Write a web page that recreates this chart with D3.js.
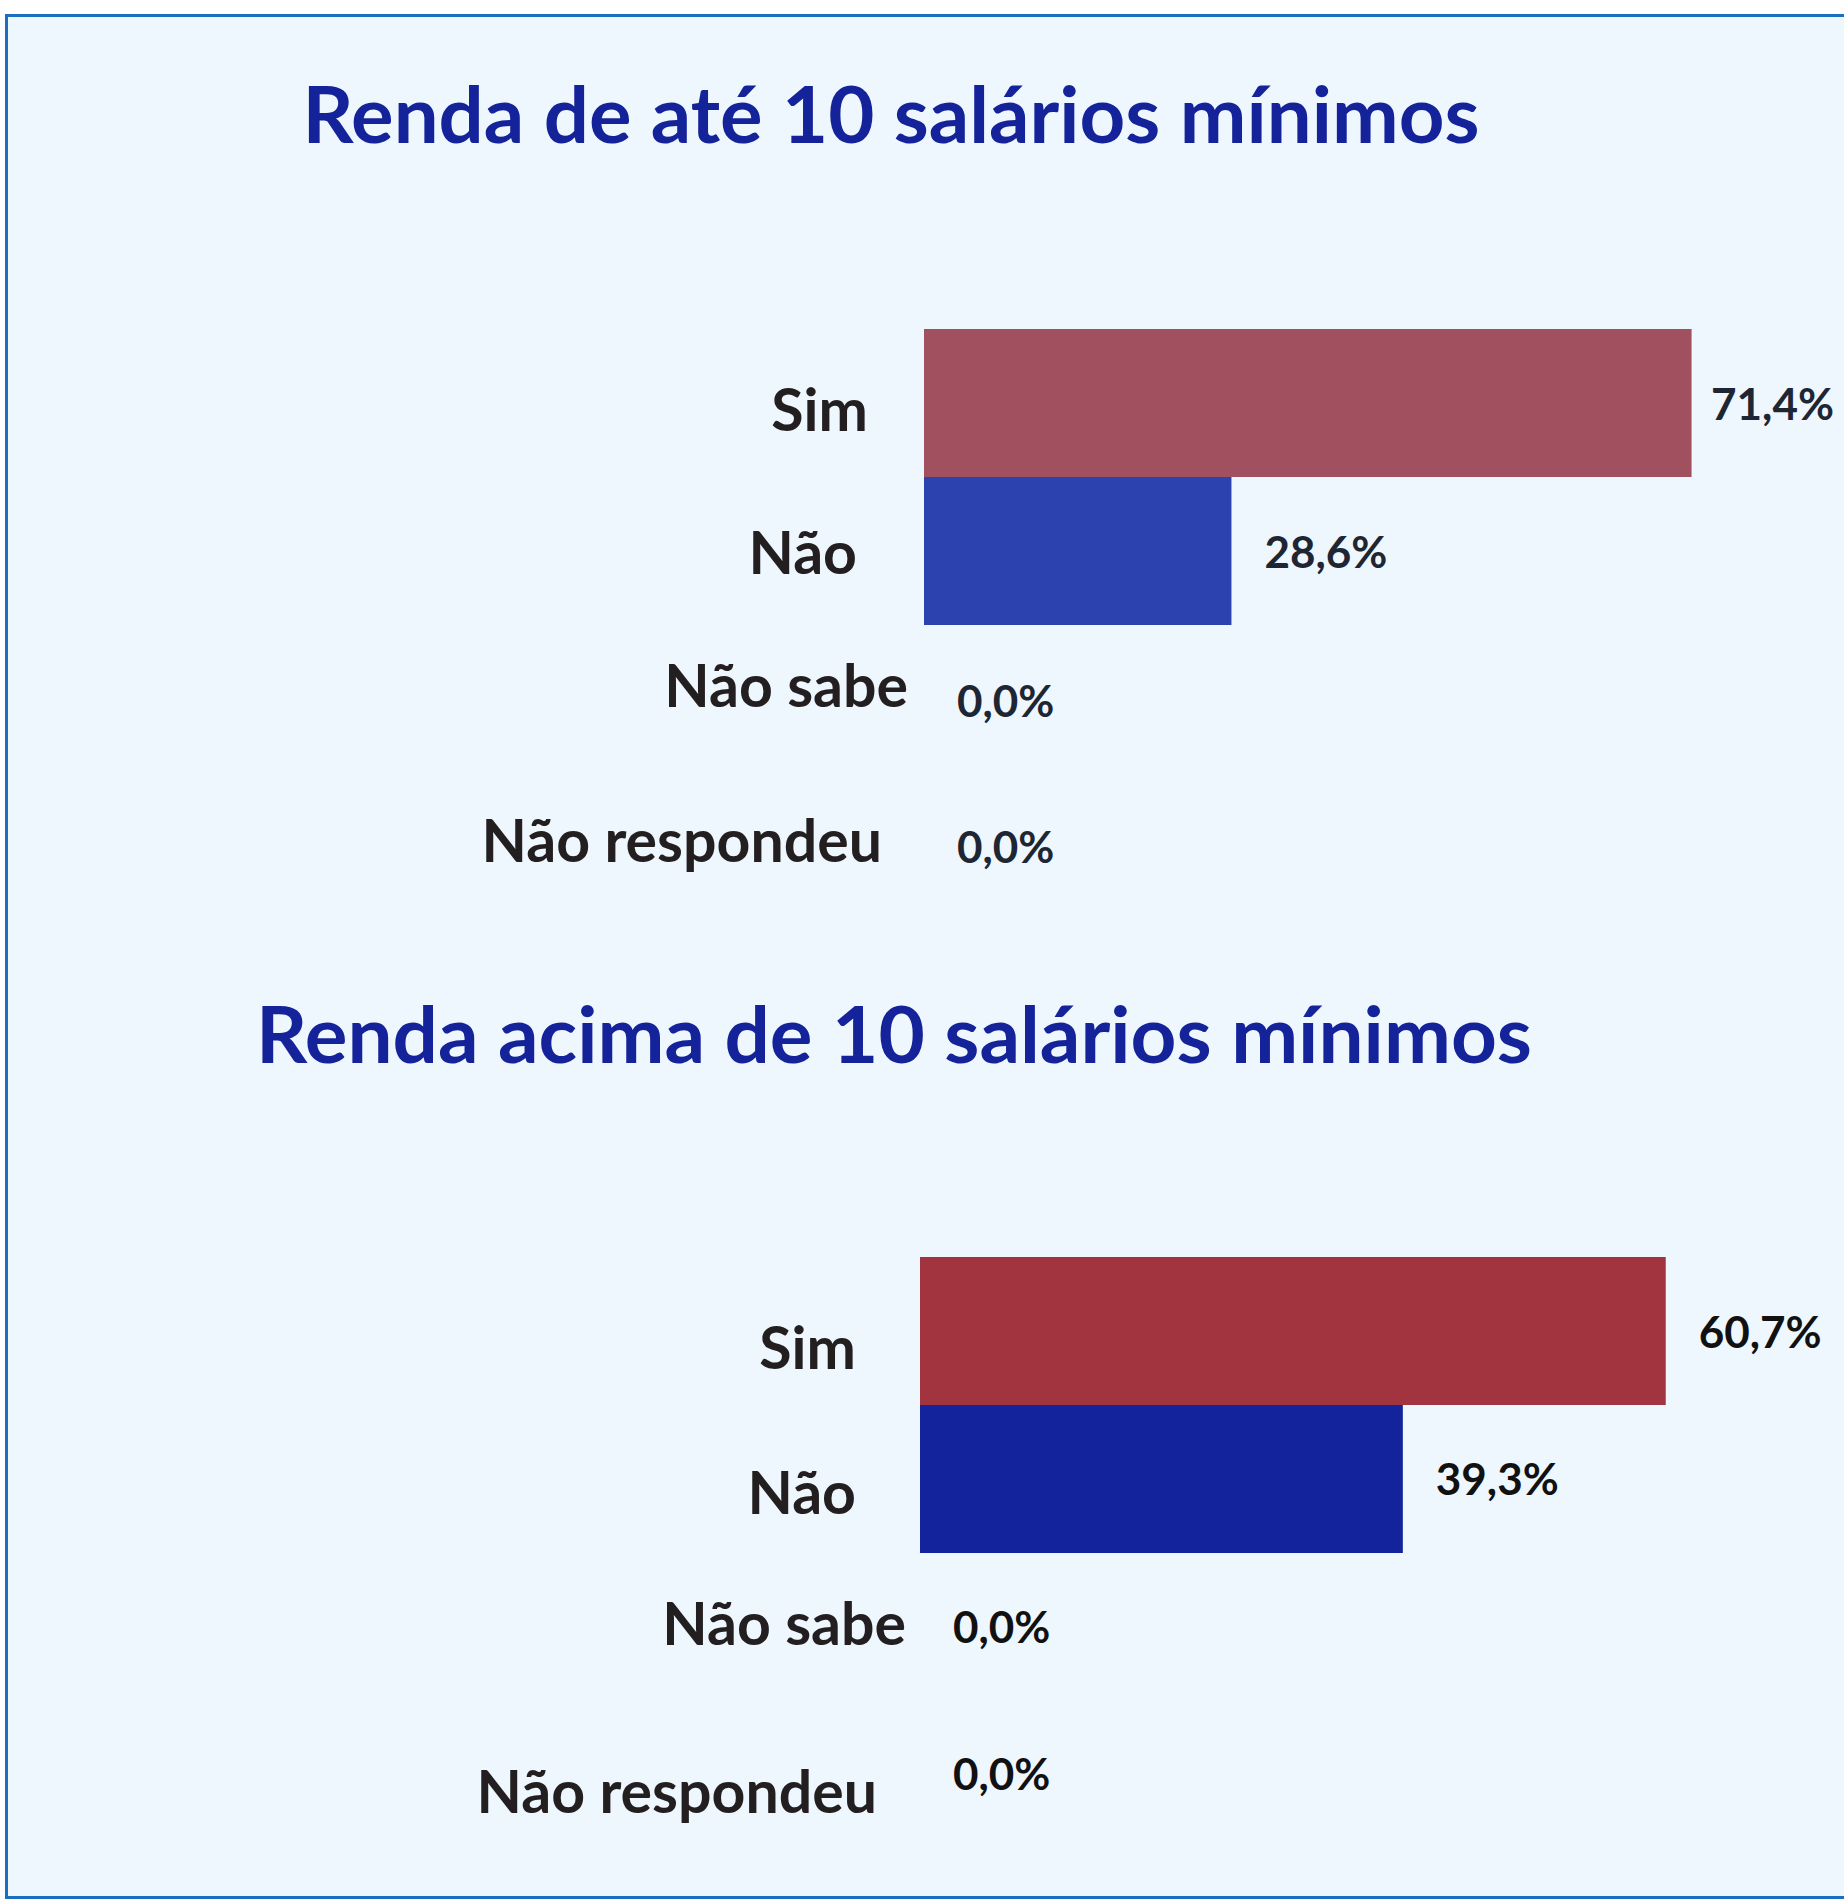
<!DOCTYPE html>
<html>
<head>
<meta charset="utf-8">
<script src="https://cdn.jsdelivr.net/npm/d3@7"></script>
<style>
  body { margin: 0; background: #ffffff; }
  svg { display: block; }
  .title { font-family: Lato, "Open Sans", sans-serif; font-weight: 700; fill: #15239b; }
  .cat { font-family: Lato, "Open Sans", sans-serif; font-weight: 700; fill: #231f20; }
  .val { font-family: Lato, "Open Sans", sans-serif; font-weight: 700; }
</style>
</head>
<body>
<svg id="chart"></svg>
<script>
// data
var categories = ["Sim", "Não", "Não sabe", "Não respondeu"];
var titles = ["Renda de até 10 salários mínimos", "Renda acima de 10 salários mínimos"];
var valuesAte10 = [71.4, 28.6, 0.0, 0.0];
var valuesAcima10 = [60.7, 39.3, 0.0, 0.0];
var axisMax = [80, 70];

var width = 1844, height = 1901;

// layout for the two panels
var panels = [
  { title: titles[0], values: valuesAte10, max: axisMax[0],
    x0: 924, top: 329, titleX: 891, titleY: 143, titleW: 1177,
    colors: ["#a0505e", "#2c42af", "#a0505e", "#a0505e"], valColor: "#1f2633",
    labelDx: [-56, -67, -16, -42], labelDy: [28, 23, 8, 15], valDy: [17, 17, 18, 16] },
  { title: titles[1], values: valuesAcima10, max: axisMax[1],
    x0: 920, top: 1257, titleX: 894, titleY: 1063, titleW: 1276,
    colors: ["#a1343f", "#12239b", "#a1343f", "#a1343f"], valColor: "#111111",
    labelDx: [-64, -64, -14, -43], labelDy: [38, 35, 18, 38], valDy: [17, 16, 16, 15] }
];

var fmt = d3.format(".1f");
function pct(v) { return fmt(v).replace(".", ",") + "%"; }

var svg = d3.select("#chart")
  .attr("width", width)
  .attr("height", height);

svg.append("rect")
  .attr("x", 6.5).attr("y", 15.5)
  .attr("width", width + 20).attr("height", 1882)
  .attr("fill", "#eef6fe")
  .attr("stroke", "#1b6ec2")
  .attr("stroke-width", 3);

panels.forEach(function(p) {
  var x = d3.scaleLinear().domain([0, p.max]).range([p.x0, p.x0 + 860]);
  var y = d3.scaleBand().domain(categories).range([p.top, p.top + 148 * categories.length]).padding(0);

  var g = svg.append("g");

  g.append("text")
    .attr("class", "title")
    .attr("x", p.titleX)
    .attr("y", p.titleY)
    .attr("text-anchor", "middle")
    .attr("textLength", p.titleW)
    .attr("lengthAdjust", "spacingAndGlyphs")
    .style("font-size", "78px")
    .text(p.title);

  g.selectAll(".bar")
    .data(p.values)
    .enter()
    .append("rect")
    .attr("class", "bar")
    .attr("x", x(0))
    .attr("y", function(d, i) { return y(categories[i]); })
    .attr("width", function(d) { return x(d) - x(0); })
    .attr("height", y.bandwidth())
    .attr("fill", function(d, i) { return p.colors[i]; });

  g.selectAll(".cat")
    .data(categories)
    .enter()
    .append("text")
    .attr("class", "cat")
    .attr("x", function(d, i) { return x(0) + p.labelDx[i]; })
    .attr("y", function(d, i) { return y(d) + y.bandwidth() / 2 + p.labelDy[i]; })
    .attr("text-anchor", "end")
    .style("font-size", "59px")
    .text(function(d) { return d; });

  g.selectAll(".val")
    .data(p.values)
    .enter()
    .append("text")
    .attr("class", "val")
    .attr("y", function(d, i) { return y(categories[i]) + y.bandwidth() / 2 + p.valDy[i]; })
    .attr("fill", p.valColor)
    .style("font-size", "44px")
    .text(function(d) { return pct(d); })
    .attr("x", function(d) {
      var w = this.getComputedTextLength();
      return Math.min(x(d) + 33, width - 10 - w);
    });
});
</script>
</body>
</html>
